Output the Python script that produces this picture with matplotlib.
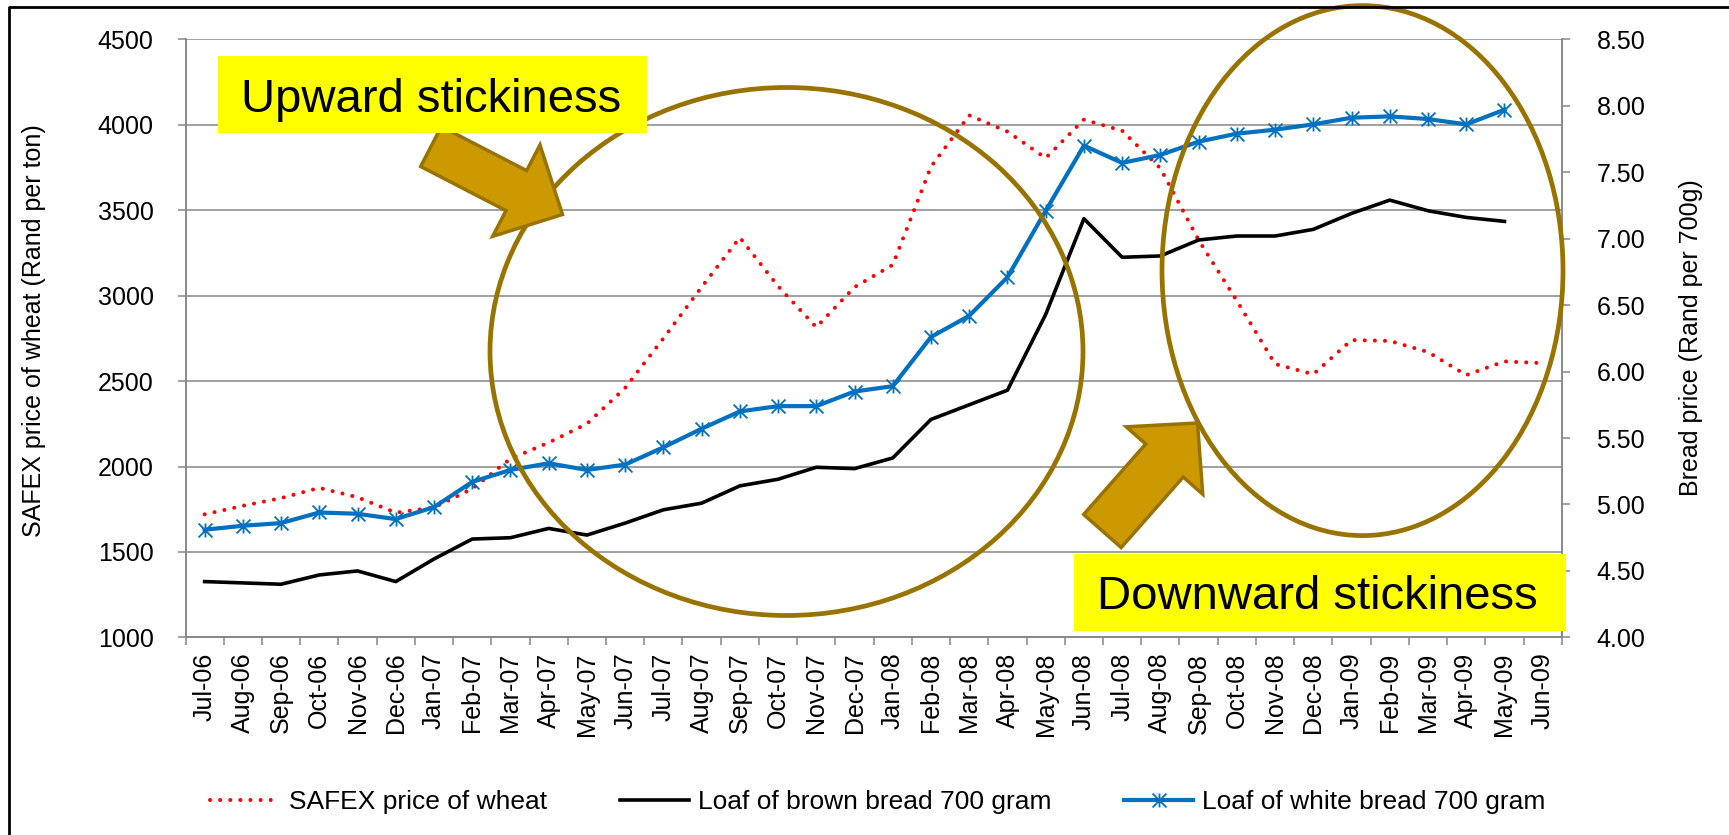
import numpy as np
import matplotlib.pyplot as plt
from matplotlib.patches import Ellipse, Polygon, Rectangle
from matplotlib.lines import Line2D
from matplotlib.path import Path
from matplotlib.ticker import FormatStrFormatter

plt.rcParams['font.family'] = ['Liberation Sans', 'DejaVu Sans']

# monthly data, Jul-06 .. Jun-09
months = ['Jul-06', 'Aug-06', 'Sep-06', 'Oct-06', 'Nov-06', 'Dec-06',
          'Jan-07', 'Feb-07', 'Mar-07', 'Apr-07', 'May-07', 'Jun-07',
          'Jul-07', 'Aug-07', 'Sep-07', 'Oct-07', 'Nov-07', 'Dec-07',
          'Jan-08', 'Feb-08', 'Mar-08', 'Apr-08', 'May-08', 'Jun-08',
          'Jul-08', 'Aug-08', 'Sep-08', 'Oct-08', 'Nov-08', 'Dec-08',
          'Jan-09', 'Feb-09', 'Mar-09', 'Apr-09', 'May-09', 'Jun-09']

# SAFEX price of wheat, Rand per ton (left axis)
wheat = [1720, 1770, 1815, 1875, 1820, 1730, 1760, 1870, 2045, 2140, 2250, 2460,
         2750, 3050, 3340, 3055, 2815, 3050, 3180, 3755, 4055, 3960, 3805, 4030,
         3965, 3745, 3325, 2970, 2600, 2540, 2740, 2735, 2670, 2535, 2615, 2605]

# bread prices, Rand per 700g (right axis)
brown = [4.42, 4.41, 4.40, 4.47, 4.50, 4.42, 4.59, 4.74, 4.75, 4.82, 4.77, 4.86,
         4.96, 5.01, 5.14, 5.19, 5.28, 5.27, 5.35, 5.64, 5.75, 5.86, 6.43, 7.15,
         6.86, 6.87, 6.99, 7.02, 7.02, 7.07, 7.19, 7.29, 7.21, 7.16, 7.13, np.nan]
white = [4.81, 4.84, 4.86, 4.94, 4.93, 4.89, 4.98, 5.17, 5.26, 5.31, 5.26, 5.30,
         5.43, 5.57, 5.70, 5.74, 5.74, 5.85, 5.89, 6.26, 6.42, 6.71, 7.21, 7.70,
         7.57, 7.63, 7.73, 7.79, 7.82, 7.86, 7.91, 7.92, 7.90, 7.86, 7.97, np.nan]

grey = '#868686'
gold_edge = '#997300'
gold_fill = '#CC9900'
W, H = 1729, 835

x = np.arange(len(months))

fig = plt.figure(figsize=(W / 100, H / 100), dpi=100)
ax1 = fig.add_axes([185.5 / W, 1 - 637.4 / H, (1561.8 - 185.5) / W, (637.4 - 39.3) / H])
ax2 = ax1.twinx()

l1, = ax1.plot(x, wheat, color='red', lw=2.9, linestyle=(0, (0.01, 2.5)),
               dash_capstyle='round', label='SAFEX price of wheat')
l2, = ax2.plot(x, brown, color='black', lw=2.6, label='Loaf of brown bread 700 gram')
star = Path([(0, -1), (0, 1), (-1, -1), (1, 1), (-1, 1), (1, -1)],
            [Path.MOVETO, Path.LINETO] * 3)
l3, = ax2.plot(x, white, color='#0070C0', lw=3, marker=star, ms=10, mew=1.3,
               mec='#0070C0', label='Loaf of white bread 700 gram')

ax1.set_xlim(-0.5, len(months) - 0.5)
ax1.set_ylim(1000, 4500)
ax1.set_yticks(np.arange(1000, 4501, 500))
ax2.set_ylim(4.0, 8.5)
ax2.set_yticks(np.arange(4.0, 8.51, 0.5))
ax2.yaxis.set_major_formatter(FormatStrFormatter('%.2f'))

ax1.set_xticks(x)
ax1.set_xticklabels(months, rotation=90)
ax1.set_xticks(np.arange(-0.5, len(months)), minor=True)
ax1.tick_params(axis='x', which='major', length=0, pad=11, labelsize=18)
ax1.tick_params(axis='x', which='minor', length=6, color=grey, width=1.1)
ax1.tick_params(axis='y', length=6, color=grey, width=1.1, pad=17, labelsize=18)
ax2.tick_params(axis='y', length=6, color=grey, width=1.1, pad=19, labelsize=18)

ax1.grid(axis='y', color=grey, lw=1.1)
ax1.set_axisbelow(True)
for ax in (ax1, ax2):
    for s in ax.spines.values():
        s.set_color(grey)
        s.set_linewidth(1.1)
    ax.spines['top'].set_visible(False)

fig.text(34 / W, 1 - 331 / H, 'SAFEX price of wheat (Rand per ton)', rotation=90,
         ha='center', va='center', fontsize=18)
fig.text(1691 / W, 1 - 338 / H, 'Bread price (Rand per 700g)', rotation=90,
         ha='center', va='center', fontsize=18)

fig.legend([l1, l2, l3], [l.get_label() for l in (l1, l2, l3)], loc='center',
           bbox_to_anchor=(878 / W, 1 - 802 / H), ncol=3, frameon=False, fontsize=19,
           handlelength=2.63, handletextpad=0.33, columnspacing=2.76, numpoints=1)

# overlay in pixel coordinates for the drawn shapes
ov = fig.add_axes([0, 0, 1, 1], zorder=10)
ov.set_xlim(0, W)
ov.set_ylim(H, 0)
ov.axis('off')
ov.patch.set_alpha(0)


def block_arrow(tail, tip, shaft, head, head_len):
    tail = np.array(tail, float)
    tip = np.array(tip, float)
    u = (tip - tail) / np.hypot(*(tip - tail))
    n = np.array([-u[1], u[0]])
    base = tip - u * head_len
    pts = [tail + n * shaft / 2, base + n * shaft / 2, base + n * head / 2, tip,
           base - n * head / 2, base - n * shaft / 2, tail - n * shaft / 2]
    return Polygon(pts, closed=True, fc=gold_fill, ec=gold_edge, lw=2.5, joinstyle='miter')


ov.add_patch(Ellipse((786.5, 351.5), 593, 528, fill=False, ec=gold_edge, lw=3.4))
ov.add_patch(Ellipse((1362.5, 270.6), 401, 530, fill=False, ec=gold_edge, lw=3.4))

ov.add_patch(block_arrow((431, 146.5), (562.5, 214.5), 45, 103, 52))
ov.add_patch(block_arrow((1102.4, 531), (1197.5, 423), 50, 102, 50))

ov.add_patch(Rectangle((218, 56), 429, 77, fc='yellow', ec='none'))
ov.text(431, 112.3, 'Upward stickiness', fontsize=34, ha='center', va='baseline')
ov.add_patch(Rectangle((1074, 554), 492, 77, fc='yellow', ec='none'))
ov.text(1317, 609, 'Downward stickiness', fontsize=34, ha='center', va='baseline')

# chart frame (cut off on the right and bottom)
ov.add_line(Line2D([9, 9, W], [H, 6.6, 6.6], color='black', lw=2))

fig.savefig('out.png', dpi=100)
